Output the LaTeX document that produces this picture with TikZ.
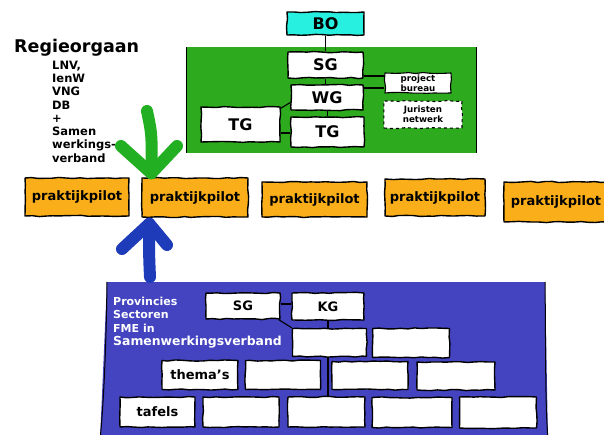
\documentclass[tikz,border=0pt]{standalone}
\usepackage{fontspec}
\setmainfont{DejaVu Sans}
\usetikzlibrary{decorations.pathmorphing}
\definecolor{panelgreen}{RGB}{45,170,30}
\definecolor{arrowgreen}{RGB}{34,175,34}
\definecolor{bocyan}{RGB}{40,240,225}
\definecolor{pilotorange}{RGB}{250,174,26}
\definecolor{panelblue}{RGB}{68,68,192}
\definecolor{arrowblue}{RGB}{30,60,185}
\begin{document}
\pgfmathsetseed{7}
\begin{tikzpicture}[x=1pt,y=-1pt,
  sk/.style={decorate,decoration={random steps,segment length=7pt,amplitude=0.6pt}},
  box/.style={sk,draw=black,line width=1.4pt,fill=white,inner sep=0pt,line join=round,
    font=\bfseries\fontsize{16}{19}\selectfont},
  pilot/.style={box,fill=pilotorange,font=\bfseries\fontsize{13}{15}\selectfont},
  wbox/.style={box,font=\bfseries\fontsize{13}{15}\selectfont},
  smallbox/.style={box,line width=1.1pt,align=center,
    font=\bfseries\fontsize{8.7}{10.3}\selectfont},
  conn/.style={line width=1.1pt,black},
  fatarrow/.style={line width=12pt,line cap=round,line join=round},
  listtext/.style={anchor=base west,inner sep=0pt,font=\bfseries\fontsize{11.5}{13}\selectfont},
  bluetext/.style={anchor=base west,inner sep=0pt,text=white,font=\bfseries\fontsize{11}{13}\selectfont},
]
\useasboundingbox (0,0) rectangle (604,435);
\fill[white] (0,0) rectangle (604,435);

% ---------- left label ----------
\node[anchor=base west,inner sep=0pt,font=\bfseries\fontsize{17.5}{20}\selectfont] (regie) at (14,53) {Regieorgaan};
\foreach \t [count=\i] in {{LNV,},IenW,VNG,DB,+,Samen,werkings-,verband}
  \node[listtext] (L\i) at (52,{69.2+13.3*(\i-1)}) {\t};

% ---------- green panel ----------
\node[fill=panelgreen,minimum width=289pt,minimum height=106pt,inner sep=0pt] (gpanel) at (331.5,100) {};
\draw[line width=1pt] (gpanel.north west) -- (gpanel.south west);
\draw[line width=1pt] (gpanel.north east) -- (gpanel.south east);

\node[box,fill=bocyan,minimum width=77pt,minimum height=23pt] (BO) at (325.5,23.5) {BO};
\node[box,minimum width=75pt,minimum height=26pt] (SG) at (325.5,65) {SG};
\node[box,minimum width=72pt,minimum height=25pt] (WG) at (327,97.5) {WG};
\node[box,minimum width=79pt,minimum height=35pt] (TGl) at (240.5,124.5) {TG};
\node[box,minimum width=73pt,minimum height=30pt] (TGr) at (327.5,132) {TG};
\node[smallbox,minimum width=66pt,minimum height=20pt] (PB) at (418,83) {project\\bureau};
\node[smallbox,dashed,minimum width=78pt,minimum height=27pt] (JN) at (423,114.5) {Juristen\\netwerk};

\draw[conn] (BO.south) -- (SG.north);
\draw[conn] (SG.south) -- (SG.south |- WG.north);
\draw[conn] (WG.south -| TGr.north) -- (TGr.north);
\draw[conn] ([yshift=-11pt]SG.east) -- ([yshift=-11pt]SG.east -| PB.west);
\draw[conn] ([yshift=9.5pt]WG.east) -- ([yshift=9.5pt]WG.east -| PB.west);
\draw[conn] ([yshift=-5pt]WG.west) -- ([yshift=-2pt]TGl.north east);
\draw[conn] ([yshift=-1pt]TGr.west) -- ([yshift=-1pt]TGr.west -| TGl.east);

% ---------- praktijkpilots ----------
\node[pilot,minimum width=104pt,minimum height=38pt] (P1) at (77,197) {praktijkpilot};
\node[pilot,minimum width=106pt,minimum height=39pt] (P2) at (195,197.5) {praktijkpilot};
\node[pilot,minimum width=105pt,minimum height=35pt] (P3) at (314.5,199.5) {praktijkpilot};
\node[pilot,minimum width=100pt,minimum height=37pt] (P4) at (435,197.5) {praktijkpilot};
\node[pilot,minimum width=104pt,minimum height=40pt] (P5) at (556,202) {praktijkpilot};

% ---------- green arrow ----------
\coordinate (gtail) at (147,111);
\coordinate (gtip) at ([xshift=10pt,yshift=4pt]P2.north west);
\coordinate (gleft) at (121,146);
\coordinate (gright) at (177,146);
\draw[fatarrow,arrowgreen] (gtail) .. controls (152,135) .. (gtip);
\draw[fatarrow,arrowgreen] (gleft) -- (gtip) -- (gright);

% ---------- blue panel ----------
\coordinate (bnw) at (107,282);
\coordinate (bne) at (545,282);
\coordinate (bse) at (548,440);
\coordinate (bsw) at (100,440);
\fill[panelblue] (bnw) -- (bne) -- (bse) -- (bsw) -- cycle;
\draw[line width=1pt] (bnw) .. controls (106,360) and (103,410) .. (bsw);
\draw[line width=1pt] (bne) .. controls (546,360) and (545,400) .. (bse);

% ---------- blue arrow ----------
\coordinate (btail) at (150,277);
\coordinate (btip) at ([xshift=8pt,yshift=-6pt]P2.south west);
\coordinate (bleft) at (122,249);
\coordinate (bright) at (167,245);
\draw[fatarrow,arrowblue] (btail) .. controls (149,255) .. (btip);
\draw[fatarrow,arrowblue] (bleft) -- (btip) -- (bright);

\node[bluetext] (prov) at (113,305) {Provincies};
\node[bluetext] (sect) at (113,318) {Sectoren};
\node[bluetext] (fme) at (113,332) {FME in};
\node[bluetext,font=\bfseries\fontsize{12.4}{14}\selectfont] (samen) at (113,345) {Samenwerkingsverband};

\node[wbox,minimum width=74pt,minimum height=26pt] (SG2) at (243,306) {SG};
\node[wbox,minimum width=72pt,minimum height=27pt] (KG) at (328,306.5) {KG};
\node[wbox,minimum width=74pt,minimum height=28pt] (R2a) at (329.5,342.5) {};
\node[wbox,minimum width=77pt,minimum height=29pt] (R2b) at (411,343) {};
\node[wbox,minimum width=76pt,minimum height=29pt] (R3a) at (200,375) {thema’s};
\node[wbox,minimum width=75pt,minimum height=29pt] (R3b) at (283,375) {};
\node[wbox,minimum width=76pt,minimum height=28pt] (R3c) at (370,375.5) {};
\node[wbox,minimum width=78pt,minimum height=28pt] (R3d) at (456,376) {};
\node[wbox,minimum width=75pt,minimum height=30pt] (R4a) at (157.5,412) {tafels};
\node[wbox,minimum width=76pt,minimum height=30pt] (R4b) at (241,412) {};
\node[wbox,minimum width=77pt,minimum height=30pt] (R4c) at (326.5,412) {};
\node[wbox,minimum width=80pt,minimum height=30pt] (R4d) at (412,412.5) {};
\node[wbox,minimum width=77pt,minimum height=31pt] (R4e) at (498,412.5) {};

\draw[conn] ([yshift=2pt]SG2.east) -- ([yshift=2pt]SG2.east -| KG.west);
\draw[conn] ([xshift=-2pt]SG2.south east) -- (R2a.north west);
\draw[conn] (KG.south) -- (KG.south |- R2a.north);
\draw[conn] (R2a.south -| KG.south) -- (KG.south |- R4c.north);
\end{tikzpicture}
\end{document}
